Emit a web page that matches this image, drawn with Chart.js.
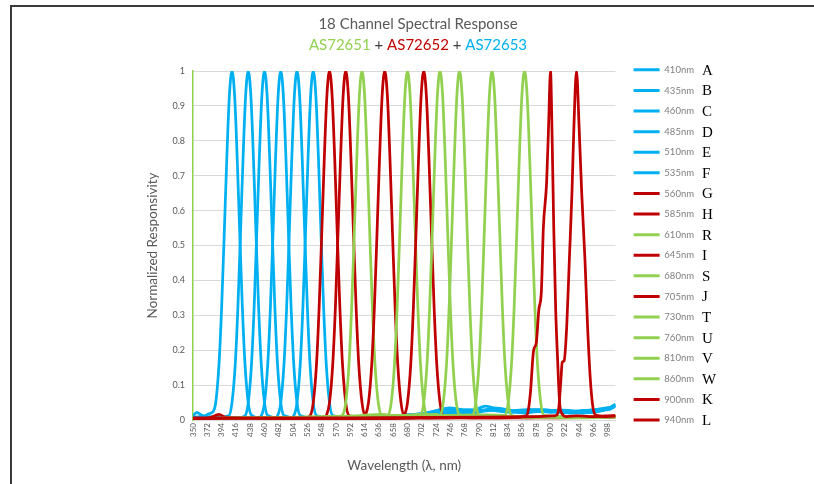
<!DOCTYPE html>
<html>
<head>
<meta charset="utf-8">
<script src="https://cdn.jsdelivr.net/npm/chart.js@4.4.0/dist/chart.umd.min.js"></script>
<style>
    html, body { margin: 0; padding: 0; background: #ffffff; }
    #wrap { width: 814px; height: 484px; position: relative; }
</style>
</head>
<body>
<div id="wrap"><canvas id="chart" width="814" height="484"></canvas></div>
<script>

// tick labels on the wavelength axis
const xTickLabels = [350, 372, 394, 416, 438, 460, 482, 504, 526, 548, 570, 592, 614, 636, 658, 680,
                     702, 724, 746, 768, 790, 812, 834, 856, 878, 900, 922, 944, 966, 988];

const channelNames = ["410nm", "435nm", "460nm", "485nm", "510nm", "535nm", "560nm", "585nm", "610nm",
                      "645nm", "680nm", "705nm", "730nm", "760nm", "810nm", "860nm", "900nm", "940nm"];
const channelLetters = ["A", "B", "C", "D", "E", "F", "G", "H", "R", "I", "S", "J", "T", "U", "V", "W", "K", "L"];

const BLUE = "#00b0f0";
const RED = "#c00000";
const GREEN = "#92d050";
const channelColors = [BLUE, BLUE, BLUE, BLUE, BLUE, BLUE, RED, RED, GREEN,
                       RED, GREEN, RED, GREEN, GREEN, GREEN, GREEN, RED, RED];

// [wavelength nm, normalized responsivity]
const chA = [[350,0.012],[356,0.022],[362,0.015],[368,0.012],[374,0.018],[380,0.022],[385,0.05],[390,0.16],[394,0.32],[398,0.53],[402,0.75],[406,0.93],[410,1],[414,0.93],[418,0.75],[422,0.53],[426,0.32],[430,0.16],[435,0.05],[440,0.014],[460,0.004],[540,0.005],[620,0.008],[690,0.012],[730,0.022],[770,0.018],[810,0.03],[850,0.022],[890,0.026],[930,0.02],[970,0.024],[992,0.035],[1000,0.045]];
const chB = [[350,0.008],[370,0.01],[390,0.008],[405,0.012],[410,0.05],[415,0.16],[419,0.32],[423,0.53],[427,0.75],[431,0.93],[435,1],[439,0.93],[443,0.75],[447,0.53],[451,0.32],[455,0.16],[460,0.05],[465,0.013],[490,0.004],[580,0.006],[660,0.01],[710,0.015],[745,0.03],[780,0.02],[815,0.035],[850,0.025],[885,0.03],[925,0.022],[960,0.028],[990,0.03],[1000,0.04]];
const chC = [[350,0.006],[380,0.008],[420,0.006],[430,0.012],[435,0.05],[440,0.16],[444,0.32],[448,0.53],[452,0.75],[456,0.93],[460,1],[464,0.93],[468,0.75],[472,0.53],[476,0.32],[480,0.16],[485,0.05],[490,0.013],[520,0.004],[600,0.007],[680,0.012],[720,0.02],[755,0.028],[790,0.025],[825,0.03],[860,0.02],[895,0.028],[935,0.024],[970,0.03],[1000,0.038]];
const chD = [[350,0.005],[400,0.006],[450,0.006],[455,0.012],[460,0.05],[465,0.16],[469,0.32],[473,0.53],[477,0.75],[481,0.93],[485,1],[489,0.93],[493,0.75],[497,0.53],[501,0.32],[505,0.16],[510,0.05],[515,0.013],[545,0.004],[620,0.008],[700,0.015],[735,0.025],[770,0.03],[805,0.028],[840,0.022],[875,0.03],[910,0.025],[950,0.02],[985,0.03],[1000,0.042]];
const chE = [[350,0.005],[420,0.006],[475,0.006],[480,0.012],[485,0.05],[490,0.16],[494,0.32],[498,0.53],[502,0.75],[506,0.93],[510,1],[514,0.93],[518,0.75],[522,0.53],[526,0.32],[530,0.16],[535,0.05],[540,0.013],[570,0.005],[640,0.01],[700,0.018],[740,0.03],[775,0.022],[800,0.04],[830,0.025],[865,0.03],[900,0.022],[940,0.026],[975,0.03],[1000,0.04]];
const chF = [[350,0.005],[440,0.006],[500,0.006],[505,0.012],[510,0.05],[515,0.16],[519,0.32],[523,0.53],[527,0.75],[531,0.93],[535,1],[539,0.93],[543,0.75],[547,0.53],[551,0.32],[555,0.16],[560,0.05],[565,0.013],[595,0.006],[660,0.012],[710,0.02],[745,0.035],[780,0.025],[815,0.03],[850,0.026],[885,0.024],[920,0.028],[955,0.022],[985,0.03],[1000,0.045]];
const chG = [[350,0.004],[375,0.006],[390,0.016],[400,0.008],[450,0.004],[520,0.004],[530,0.012],[535,0.05],[540,0.16],[544,0.32],[548,0.53],[552,0.75],[556,0.93],[560,1],[564,0.93],[568,0.75],[572,0.53],[576,0.32],[580,0.16],[585,0.05],[590,0.013],[620,0.004],[700,0.006],[800,0.008],[900,0.006],[1000,0.008]];
const chH = [[350,0.004],[450,0.004],[550,0.004],[555,0.012],[560,0.05],[565,0.16],[569,0.32],[573,0.53],[577,0.75],[581,0.93],[585,1],[589,0.93],[593,0.75],[597,0.53],[601,0.32],[605,0.16],[610,0.05],[615,0.013],[650,0.005],[750,0.008],[850,0.006],[950,0.01],[1000,0.012]];
const chR = [[350,0.004],[450,0.004],[560,0.006],[575,0.01],[580,0.014],[585,0.05],[590,0.16],[594,0.32],[598,0.53],[602,0.75],[606,0.93],[610,1],[614,0.93],[618,0.75],[622,0.53],[626,0.32],[630,0.16],[635,0.05],[640,0.016],[670,0.012],[700,0.016],[740,0.012],[780,0.01],[850,0.008],[950,0.006],[1000,0.008]];
const chI = [[350,0.004],[500,0.004],[610,0.005],[615,0.013],[620,0.05],[625,0.16],[629,0.32],[633,0.53],[637,0.75],[641,0.93],[645,1],[649,0.93],[653,0.75],[657,0.53],[661,0.32],[665,0.16],[670,0.05],[675,0.013],[710,0.006],[800,0.008],[900,0.007],[1000,0.01]];
const chS = [[350,0.004],[500,0.006],[600,0.012],[640,0.016],[650,0.014],[655,0.05],[660,0.16],[664,0.32],[668,0.53],[672,0.75],[676,0.93],[680,1],[684,0.93],[688,0.75],[692,0.53],[696,0.32],[700,0.16],[705,0.05],[710,0.015],[740,0.012],[780,0.014],[820,0.01],[900,0.008],[1000,0.01]];
const chJ = [[350,0.004],[550,0.005],[670,0.006],[675,0.013],[680,0.05],[685,0.16],[689,0.32],[693,0.53],[697,0.75],[701,0.93],[705,1],[709,0.93],[713,0.75],[717,0.53],[721,0.32],[725,0.16],[730,0.05],[735,0.013],[780,0.006],[880,0.008],[1000,0.01]];
const chT = [[350,0.004],[550,0.008],[650,0.012],[695,0.014],[700,0.013],[705,0.05],[710,0.16],[714,0.32],[718,0.53],[722,0.75],[726,0.93],[730,1],[734,0.93],[738,0.75],[742,0.53],[746,0.32],[750,0.16],[755,0.05],[760,0.015],[800,0.01],[900,0.008],[1000,0.01]];
const chU = [[350,0.004],[600,0.01],[700,0.014],[725,0.016],[730,0.013],[735,0.05],[740,0.16],[744,0.32],[748,0.53],[752,0.75],[756,0.93],[760,1],[764,0.93],[768,0.75],[772,0.53],[776,0.32],[780,0.16],[785,0.05],[790,0.015],[830,0.01],[900,0.008],[1000,0.01]];
const chV = [[350,0.004],[600,0.01],[700,0.014],[760,0.012],[780,0.013],[785,0.05],[790,0.16],[794,0.32],[798,0.53],[802,0.75],[806,0.93],[810,1],[814,0.93],[818,0.75],[822,0.53],[826,0.32],[830,0.16],[835,0.05],[840,0.013],[870,0.008],[1000,0.01]];
const chW = [[350,0.004],[600,0.01],[700,0.012],[800,0.015],[830,0.013],[835,0.05],[840,0.16],[844,0.32],[848,0.53],[852,0.75],[856,0.93],[860,1],[864,0.93],[868,0.75],[872,0.53],[876,0.32],[880,0.16],[885,0.05],[890,0.013],[930,0.008],[1000,0.01]];
const chK = [[350,0.004],[600,0.005],[800,0.006],[850,0.008],[862,0.012],[865,0.02],[869,0.076],[874,0.2],[878,0.22],[882,0.315],[886,0.37],[889,0.55],[894,0.68],[897,0.84],[900,1],[902,0.86],[905,0.55],[908,0.315],[911,0.17],[914,0.05],[917,0.02],[925,0.01],[940,0.012],[960,0.01],[1000,0.012]];
const chL = [[350,0.006],[600,0.006],[800,0.008],[880,0.01],[905,0.012],[910,0.015],[913,0.04],[916,0.115],[918,0.165],[921,0.17],[925,0.27],[929,0.46],[933,0.65],[936,0.84],[940,1],[944,0.84],[948,0.65],[953,0.46],[957,0.27],[961,0.124],[965,0.04],[969,0.015],[985,0.01],[1000,0.012]];

const channelData = [chA, chB, chC, chD, chE, chF, chG, chH, chR, chI, chS, chJ, chT, chU, chV, chW, chK, chL];

Chart.defaults.font.family = "Lato";
Chart.defaults.color = "#595959";

let datasets = channelData.map((pairs, i) => {
    return {
        label: channelNames[i],
        data: pairs.map(p => ({ x: p[0], y: p[1] })),
        borderColor: channelColors[i],
        backgroundColor: channelColors[i],
        borderWidth: 2.75,
        pointRadius: 0,
        cubicInterpolationMode: "monotone",
        fill: false,
        order: channelData.length - 1 - i   // later series on top, like the original
    };
});

// titles, frame and the letter column next to the legend
const decorations = {
    id: "decorations",
    afterDraw: function(chart) {
        let ctx = chart.ctx;
        ctx.save();

        ctx.strokeStyle = "#3a3a3a";
        ctx.lineWidth = 2;
        ctx.beginPath();
        ctx.moveTo(11, 484);
        ctx.lineTo(11, 6);
        ctx.lineTo(814, 6);
        ctx.stroke();

        ctx.textBaseline = "middle";
        ctx.textAlign = "center";
        ctx.font = "15px Lato";
        ctx.fillStyle = "#595959";
        ctx.fillText("18 Channel Spectral Response", 418, 24);

        let parts = [["AS72651", GREEN], [" + ", "#404040"], ["AS72652", RED], [" + ", "#404040"], ["AS72653", BLUE]];
        let total = 0;
        parts.forEach(p => { total += ctx.measureText(p[0]).width; });
        let x = 418 - total / 2;
        ctx.textAlign = "left";
        parts.forEach(p => {
            ctx.fillStyle = p[1];
            ctx.fillText(p[0], x, 45);
            x += ctx.measureText(p[0]).width;
        });

        ctx.font = "15px 'Liberation Serif'";
        ctx.fillStyle = "#000000";
        let boxes = chart.legend.legendHitBoxes;
        chart.legend.legendItems.forEach((item, i) => {
            let hb = boxes[i];
            ctx.fillText(channelLetters[item.datasetIndex], 702, hb.top + hb.height / 2 + 1);
        });

        ctx.restore();
    }
};

new Chart(document.getElementById("chart"), {
    type: "line",
    data: { datasets: datasets },
    options: {
        responsive: false,
        animation: false,
        layout: { padding: { left: 140, top: 54, right: 110, bottom: 8 } },
        plugins: {
            tooltip: { enabled: false },
            title: { display: false },
            legend: {
                display: true,
                position: "right",
                align: "start",
                labels: {
                    boxWidth: 26,
                    boxHeight: 3,
                    padding: 11.1,
                    color: "#7f7f7f",
                    font: { size: 9.5 },
                    sort: (a, b) => a.datasetIndex - b.datasetIndex,
                    generateLabels: function(chart) {
                        let items = Chart.defaults.plugins.legend.labels.generateLabels(chart);
                        items.forEach(it => {
                            it.lineWidth = 0;
                            it.fillStyle = channelColors[it.datasetIndex];
                            it.strokeStyle = channelColors[it.datasetIndex];
                        });
                        return items;
                    }
                }
            }
        },
        scales: {
            x: {
                type: "linear",
                min: 350,
                max: 1000,
                afterBuildTicks: function(scale) {
                    scale.ticks = xTickLabels.map(v => ({ value: v }));
                },
                afterFit: function(scale) { scale.height = 56; },
                grid: { display: false, drawTicks: false },
                border: { display: true, color: "#d9d9d9" },
                ticks: {
                    autoSkip: false,
                    minRotation: 90,
                    maxRotation: 90,
                    padding: 3,
                    color: "#595959",
                    font: { size: 8 }
                },
                title: {
                    display: true,
                    text: "Wavelength (λ, nm)",
                    color: "#595959",
                    font: { size: 13.5 },
                    padding: { top: 4, bottom: 2 }
                }
            },
            x2: {
                type: "linear",
                position: "top",
                display: true,
                grid: { display: false, drawTicks: false },
                border: { display: false },
                ticks: { display: false },
                afterFit: function(scale) { scale.height = 17; }
            },
            y: {
                min: 0,
                max: 1,
                afterFit: function(scale) { scale.width = 53; },
                grid: { color: "#d9d9d9", lineWidth: 1, drawTicks: false },
                border: { display: true, color: GREEN, width: 1.5 },
                ticks: {
                    stepSize: 0.1,
                    padding: 8,
                    color: "#595959",
                    font: { size: 9 },
                    callback: v => String(Number(v.toFixed(1)))
                },
                title: {
                    display: true,
                    text: "Normalized Responsivity",
                    color: "#595959",
                    font: { size: 13.5 },
                    padding: { top: 5, bottom: 0 }
                }
            },
            y2: {
                type: "linear",
                position: "right",
                display: true,
                grid: { display: false, drawTicks: false },
                border: { display: false },
                ticks: { display: false },
                afterFit: function(scale) { scale.width = 7; }
            }
        }
    },
    plugins: [decorations]
});
</script>
</body>
</html>
